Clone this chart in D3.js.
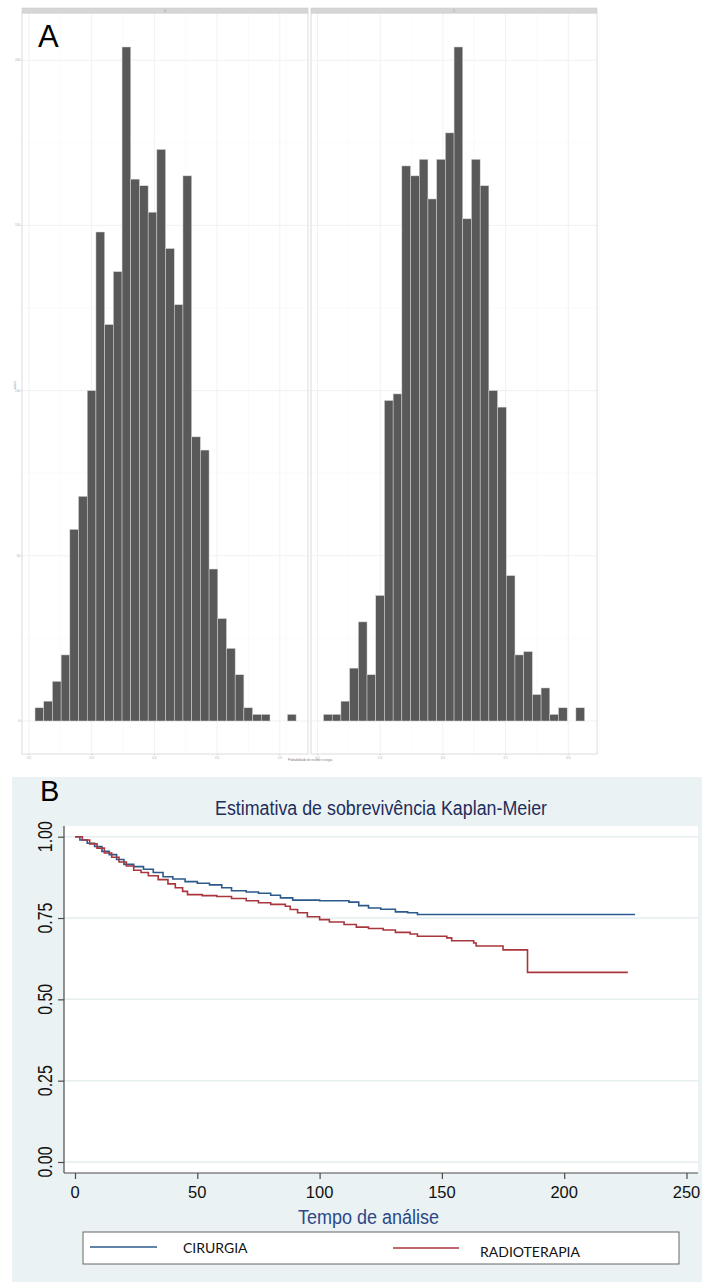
<!DOCTYPE html>
<html>
<head>
<meta charset="utf-8">
<script src="https://cdn.jsdelivr.net/npm/d3@7"></script>
<style>
  body { margin: 0; background: #fff; }
  svg { display: block; }
</style>
</head>
<body>
<svg id="chart" width="702" height="1282"></svg>
<script>
// ---- panel A: histograms (30 bins, shared x scale)
const facetNames = ["0", "1"];
const histTicksX = [0.2, 0.3, 0.4, 0.5, 0.6];
const histTicksY = [0, 50, 100, 150, 200];
const binStart = 0.2096;
const binWidth = 0.01388;
const countsLeft = [4, 6, 12, 20, 58, 68, 100, 148, 120, 136, 204, 164, 162, 154, 173,
  143, 126, 165, 86, 82, 46, 31, 22, 14, 4, 2, 2, 0, 0, 2];
const countsRight = [2, 2, 6, 16, 30, 14, 38, 97, 99, 168, 165, 170, 158, 170, 178,
  204, 152, 170, 162, 100, 95, 44, 20, 21, 8, 10, 2, 4, 0, 4];

// ---- panel B: Kaplan-Meier
const cirTime = [0, 2, 5, 8, 11, 14, 17, 20, 24, 28, 32, 36, 40, 45, 50, 55, 60, 64, 70,
  75, 80, 84, 89, 100, 112, 116, 120, 125, 131, 136, 140, 229];
const cirSurv = [1.0, 0.99, 0.98, 0.97, 0.955, 0.945, 0.93, 0.915, 0.908, 0.9, 0.89, 0.877,
  0.87, 0.862, 0.857, 0.852, 0.843, 0.834, 0.83, 0.826, 0.82, 0.812, 0.805, 0.803, 0.799,
  0.788, 0.781, 0.777, 0.769, 0.766, 0.761, 0.761];
const radTime = [0, 3, 6, 9, 12, 15, 18, 21, 24, 27, 30, 34, 38, 41, 44, 46, 52, 58, 64, 70,
  75, 80, 86, 88, 91, 95, 100, 104, 110, 115, 120, 126, 131, 137, 140, 152, 154, 163, 164,
  175, 185, 226];
const radSurv = [1.0, 0.99, 0.978, 0.965, 0.95, 0.937, 0.922, 0.91, 0.897, 0.89, 0.88, 0.868,
  0.855, 0.843, 0.832, 0.822, 0.819, 0.816, 0.81, 0.803, 0.797, 0.792, 0.786, 0.776, 0.766,
  0.754, 0.745, 0.738, 0.73, 0.722, 0.718, 0.713, 0.706, 0.701, 0.694, 0.689, 0.68, 0.673,
  0.664, 0.652, 0.583, 0.583];
const kmTicksX = [0, 50, 100, 150, 200, 250];
const kmTicksY = [0, 0.25, 0.5, 0.75, 1];
const seriesNames = ["CIRURGIA", "RADIOTERAPIA"];
const seriesColors = ["#2d5a8c", "#a8363c"];

const svg = d3.select("#chart");

// ================= PANEL A =================
const panels = [
  { x0: 22, x1: 308, range: [29, 279.8], counts: countsLeft, name: facetNames[0] },
  { x0: 311, x1: 597, range: [317.5, 568.3], counts: countsRight, name: facetNames[1] }
];
const aTop = 13, aBottom = 754;
const yA = d3.scaleLinear().domain([0, 200]).range([721, 60.2]);

panels.forEach(p => {
  const x = d3.scaleLinear().domain([0.2, 0.6]).range(p.range);
  const g = svg.append("g");

  g.append("rect").attr("x", p.x0).attr("y", aTop).attr("width", p.x1 - p.x0)
    .attr("height", aBottom - aTop).attr("fill", "#fff");

  // minor grid
  const minorX = d3.range(0.15, 0.66, 0.1);
  g.selectAll(".mgx").data(minorX).join("line")
    .attr("x1", d => x(d)).attr("x2", d => x(d)).attr("y1", aTop).attr("y2", aBottom)
    .attr("stroke", "#f6f6f6").attr("stroke-width", 0.6);
  g.selectAll(".mgy").data([25, 75, 125, 175]).join("line")
    .attr("x1", p.x0).attr("x2", p.x1).attr("y1", d => yA(d)).attr("y2", d => yA(d))
    .attr("stroke", "#f6f6f6").attr("stroke-width", 0.6);
  // major grid
  g.selectAll(".gx").data(histTicksX).join("line")
    .attr("x1", d => x(d)).attr("x2", d => x(d)).attr("y1", aTop).attr("y2", aBottom)
    .attr("stroke", "#efefef").attr("stroke-width", 0.9);
  g.selectAll(".gy").data(histTicksY).join("line")
    .attr("x1", p.x0).attr("x2", p.x1).attr("y1", d => yA(d)).attr("y2", d => yA(d))
    .attr("stroke", "#efefef").attr("stroke-width", 0.9);

  // bars
  g.selectAll(".bar").data(p.counts).join("rect")
    .attr("x", (d, i) => x(binStart + i * binWidth))
    .attr("width", (d, i) => x(binStart + (i + 1) * binWidth) - x(binStart + i * binWidth))
    .attr("y", d => yA(d))
    .attr("height", d => yA(0) - yA(d))
    .attr("fill", d => d > 0 ? "#595959" : "none")
    .attr("stroke", d => d > 0 ? "#d8d8d8" : "none")
    .attr("stroke-width", 0.5);

  // border + strip
  g.append("rect").attr("x", p.x0).attr("y", aTop).attr("width", p.x1 - p.x0)
    .attr("height", aBottom - aTop).attr("fill", "none").attr("stroke", "#dcdcdc");
  g.append("rect").attr("x", p.x0).attr("y", 8).attr("width", p.x1 - p.x0)
    .attr("height", 5).attr("fill", "#d6d6d6").attr("stroke", "#c8c8c8").attr("stroke-width", 0.5);
  g.append("text").attr("x", (p.x0 + p.x1) / 2).attr("y", 12)
    .attr("text-anchor", "middle").attr("font-size", 3).attr("fill", "#888")
    .attr("font-family", "Liberation Sans, sans-serif").text(p.name);

  // x ticks
  g.selectAll(".tx").data(histTicksX).join("line")
    .attr("x1", d => x(d)).attr("x2", d => x(d)).attr("y1", aBottom).attr("y2", aBottom + 1.5)
    .attr("stroke", "#bbb").attr("stroke-width", 0.5);
  g.selectAll(".tl").data(histTicksX).join("text")
    .attr("x", d => x(d)).attr("y", aBottom + 4.5)
    .attr("text-anchor", "middle").attr("font-size", 3).attr("fill", "#aaa")
    .attr("font-family", "Liberation Sans, sans-serif").text(d => d3.format(".1f")(d));
});

// y axis of panel A
svg.selectAll(".tya").data(histTicksY).join("line")
  .attr("x1", 20.5).attr("x2", 22).attr("y1", d => yA(d)).attr("y2", d => yA(d))
  .attr("stroke", "#bbb").attr("stroke-width", 0.5);
svg.selectAll(".tyl").data(histTicksY).join("text")
  .attr("x", 20).attr("y", d => yA(d) + 1)
  .attr("text-anchor", "end").attr("font-size", 3).attr("fill", "#aaa")
  .attr("font-family", "Liberation Sans, sans-serif").text(d => d);
svg.append("text").attr("transform", "translate(15.5,385) rotate(-90)")
  .attr("text-anchor", "middle").attr("font-size", 3).attr("fill", "#888")
  .attr("font-family", "Liberation Sans, sans-serif").text("count");
svg.append("text").attr("x", 310).attr("y", 761)
  .attr("text-anchor", "middle").attr("font-size", 3).attr("fill", "#777")
  .attr("font-family", "Liberation Sans, sans-serif").text("Probabilidade de receber cirurgia");

svg.append("text").attr("x", 38).attr("y", 47)
  .attr("font-size", 31).attr("font-family", "Liberation Sans, Arial, sans-serif")
  .attr("fill", "#000").text("A");

// ================= PANEL B =================
const font = "Liberation Sans, Arial, sans-serif";
svg.append("rect").attr("x", 12).attr("y", 777).attr("width", 690).attr("height", 505)
  .attr("fill", "#eaf2f3");
const plot = { left: 64, right: 698, top: 826, bottom: 1173 };
svg.append("rect").attr("x", plot.left).attr("y", plot.top)
  .attr("width", plot.right - plot.left).attr("height", plot.bottom - plot.top)
  .attr("fill", "#fff");

const xB = d3.scaleLinear().domain([0, 250]).range([75, 686.5]);
const yB = d3.scaleLinear().domain([0, 1]).range([1162, 836.7]);

// grid
svg.selectAll(".gb").data(kmTicksY).join("line")
  .attr("x1", plot.left).attr("x2", plot.right)
  .attr("y1", d => yB(d)).attr("y2", d => yB(d))
  .attr("stroke", "#e6eef0").attr("stroke-width", 1.5);

// axes
const axisY = svg.append("g").attr("transform", `translate(${plot.left},0)`)
  .call(d3.axisLeft(yB).tickValues(kmTicksY).tickSize(6).tickFormat(""));
axisY.select(".domain").attr("d", `M0,${plot.top}V${plot.bottom}`);
const axisX = svg.append("g").attr("transform", `translate(0,${plot.bottom})`)
  .call(d3.axisBottom(xB).tickValues(kmTicksX).tickSize(6).tickFormat(""));
axisX.select(".domain").attr("d", `M${plot.left},0H${plot.right}`);
svg.selectAll(".domain, .tick line").attr("stroke", "#4a4a4a").attr("stroke-width", 1.2);

svg.selectAll(".ylb").data(kmTicksY).join("text")
  .attr("transform", d => `translate(52,${yB(d)}) rotate(-90)`)
  .attr("text-anchor", "middle").attr("font-family", font).attr("font-size", 21)
  .attr("textLength", 31).attr("lengthAdjust", "spacingAndGlyphs")
  .attr("fill", "#111").text(d => d3.format(".2f")(d));
svg.selectAll(".xlb").data(kmTicksX).join("text")
  .attr("x", d => xB(d)).attr("y", 1198)
  .attr("text-anchor", "middle").attr("font-family", font).attr("font-size", 16.5)
  .attr("fill", "#111").text(d => d);

// curves
const line = d3.line().x(d => xB(d[0])).y(d => yB(d[1])).curve(d3.curveStepAfter);
const series = [d3.zip(cirTime, cirSurv), d3.zip(radTime, radSurv)];
svg.selectAll(".km").data(series).join("path")
  .attr("d", line).attr("fill", "none")
  .attr("stroke", (d, i) => seriesColors[i]).attr("stroke-width", 1.6);

// titles
svg.append("text").attr("x", 381).attr("y", 815).attr("text-anchor", "middle")
  .attr("font-family", font).attr("font-size", 20)
  .attr("textLength", 332).attr("lengthAdjust", "spacingAndGlyphs")
  .attr("fill", "#1e2d5c").text("Estimativa de sobrevivência Kaplan-Meier");
svg.append("text").attr("x", 368.5).attr("y", 1224).attr("text-anchor", "middle")
  .attr("font-family", font).attr("font-size", 19.5)
  .attr("textLength", 141).attr("lengthAdjust", "spacingAndGlyphs")
  .attr("fill", "#2b4887").text("Tempo de análise");
svg.append("text").attr("x", 40).attr("y", 801)
  .attr("font-size", 29).attr("font-family", font).attr("fill", "#000").text("B");

// legend
svg.append("rect").attr("x", 83).attr("y", 1232).attr("width", 596).attr("height", 32)
  .attr("fill", "#fff").attr("stroke", "#666").attr("stroke-width", 1);
const legend = [
  { x1: 90, x2: 157, ly: 1247, tx: 183, ty: 1252.5 },
  { x1: 393, x2: 459, ly: 1248, tx: 480, ty: 1257 }
];
legend.forEach((l, i) => {
  svg.append("line").attr("x1", l.x1).attr("x2", l.x2).attr("y1", l.ly).attr("y2", l.ly)
    .attr("stroke", seriesColors[i]).attr("stroke-width", 1.6);
  svg.append("text").attr("x", l.tx).attr("y", l.ty)
    .attr("font-family", "Lato, Open Sans, sans-serif").attr("font-size", 14)
    .attr("fill", "#111").text(seriesNames[i]);
});
</script>
</body>
</html>
